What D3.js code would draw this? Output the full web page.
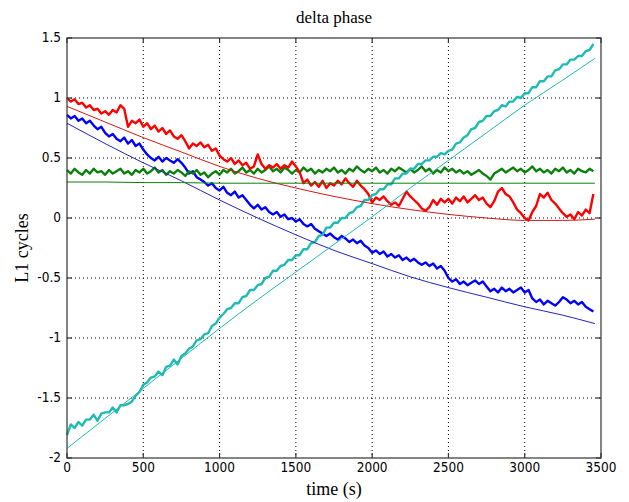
<!DOCTYPE html>
<html>
<head>
<meta charset="utf-8">
<script src="https://cdn.jsdelivr.net/npm/d3@7"></script>
<style>
  body { margin: 0; background: #fff; }
  svg { display: block; }
</style>
</head>
<body>
<div id="chart"></div>
<script>
// sample times of the measured series (every 25 s)
var sampleTime = d3.range(0, 3451, 25);

var redMeasured = [
  1.00, 0.97, 0.99, 0.95, 0.96, 0.92, 0.94, 0.90, 0.91, 0.87,
  0.89, 0.86, 0.90, 0.88, 0.94, 0.91, 0.76, 0.81, 0.79, 0.82,
  0.76, 0.79, 0.74, 0.77, 0.72, 0.75, 0.70, 0.73, 0.68, 0.66,
  0.69, 0.64, 0.58, 0.62, 0.60, 0.63, 0.59, 0.61, 0.56, 0.58,
  0.52, 0.49, 0.47, 0.50, 0.45, 0.48, 0.44, 0.46, 0.41, 0.43,
  0.53, 0.45, 0.41, 0.44, 0.42, 0.45, 0.41, 0.44, 0.42, 0.47,
  0.43, 0.38, 0.29, 0.32, 0.27, 0.30, 0.26, 0.31, 0.25, 0.29,
  0.27, 0.31, 0.28, 0.33, 0.29, 0.26, 0.31, 0.27, 0.24, 0.20,
  0.13, 0.17, 0.15, 0.18, 0.14, 0.11, 0.13, 0.10, 0.16, 0.22,
  0.18, 0.15, 0.12, 0.08, 0.06, 0.09, 0.15, 0.11, 0.16, 0.13,
  0.16, 0.12, 0.17, 0.14, 0.18, 0.13, 0.16, 0.19, 0.15, 0.17,
  0.12, 0.09, 0.14, 0.22, 0.25, 0.20, 0.18, 0.13, 0.07, 0.04,
  0.00, -0.02, 0.05, 0.10, 0.20, 0.17, 0.21, 0.15, 0.12, 0.08,
  0.04, 0.01, 0.03, -0.01, 0.05, 0.02, 0.07, 0.04, 0.20
];

var blueMeasured = [
  0.86, 0.83, 0.85, 0.81, 0.83, 0.79, 0.81, 0.77, 0.74, 0.76,
  0.71, 0.68, 0.70, 0.66, 0.64, 0.67, 0.62, 0.65, 0.60, 0.62,
  0.57, 0.53, 0.50, 0.48, 0.51, 0.47, 0.50, 0.48, 0.46, 0.49,
  0.46, 0.42, 0.37, 0.39, 0.34, 0.32, 0.30, 0.27, 0.29, 0.25,
  0.23, 0.26, 0.21, 0.19, 0.22, 0.17, 0.19, 0.15, 0.11, 0.08,
  0.11, 0.07, 0.09, 0.05, 0.03, 0.05, 0.01, 0.03, -0.01, 0.00,
  -0.03, -0.01, -0.05, -0.07, -0.05, -0.09, -0.11, -0.13, -0.15, -0.13,
  -0.16, -0.18, -0.15, -0.17, -0.20, -0.18, -0.21, -0.19, -0.23, -0.25,
  -0.29, -0.27, -0.30, -0.28, -0.32, -0.30, -0.33, -0.31, -0.35, -0.33,
  -0.36, -0.34, -0.37, -0.39, -0.37, -0.40, -0.38, -0.42, -0.40, -0.44,
  -0.50, -0.53, -0.51, -0.55, -0.53, -0.56, -0.54, -0.52, -0.55, -0.53,
  -0.57, -0.61, -0.59, -0.62, -0.58, -0.61, -0.59, -0.62, -0.60, -0.58,
  -0.62, -0.60, -0.67, -0.70, -0.68, -0.72, -0.69, -0.71, -0.73, -0.70,
  -0.66, -0.68, -0.71, -0.69, -0.72, -0.70, -0.74, -0.76, -0.78
];

var greenMeasured = [
  0.40, 0.37, 0.41, 0.38, 0.36, 0.40, 0.37, 0.41, 0.38, 0.39,
  0.36, 0.40, 0.37, 0.39, 0.41, 0.37, 0.39, 0.36, 0.40, 0.38,
  0.41, 0.37, 0.39, 0.42, 0.38, 0.40, 0.36, 0.39, 0.37, 0.40,
  0.38, 0.35, 0.39, 0.37, 0.40, 0.36, 0.38, 0.34, 0.37, 0.39,
  0.36, 0.40, 0.38, 0.41, 0.37, 0.39, 0.42, 0.38, 0.40, 0.37,
  0.41, 0.38, 0.40, 0.43, 0.39, 0.41, 0.38, 0.42, 0.40, 0.37,
  0.40, 0.38, 0.42, 0.39, 0.41, 0.37, 0.40, 0.38, 0.41, 0.39,
  0.42, 0.38, 0.40, 0.37, 0.41, 0.39, 0.43, 0.40, 0.38, 0.41,
  0.39, 0.42, 0.38, 0.40, 0.37, 0.41, 0.39, 0.42, 0.40, 0.38,
  0.41, 0.38, 0.40, 0.43, 0.39, 0.41, 0.37, 0.40, 0.38, 0.42,
  0.39, 0.41, 0.38, 0.40, 0.37, 0.39, 0.36, 0.38, 0.40, 0.37,
  0.35, 0.32, 0.37, 0.39, 0.41, 0.38, 0.40, 0.42, 0.39, 0.41,
  0.38, 0.40, 0.43, 0.39, 0.41, 0.38, 0.40, 0.37, 0.41, 0.39,
  0.42, 0.38, 0.40, 0.37, 0.41, 0.39, 0.38, 0.41, 0.39
];

var cyanMeasured = [
  -1.81, -1.72, -1.75, -1.70, -1.73, -1.68, -1.68, -1.64, -1.69, -1.63,
  -1.62, -1.62, -1.58, -1.62, -1.56, -1.56, -1.55, -1.53, -1.48, -1.45,
  -1.39, -1.37, -1.33, -1.32, -1.28, -1.31, -1.24, -1.23, -1.18, -1.22,
  -1.15, -1.13, -1.09, -1.07, -1.02, -1.01, -0.97, -0.96, -0.90, -0.88,
  -0.83, -0.80, -0.76, -0.75, -0.71, -0.71, -0.66, -0.65, -0.60, -0.60,
  -0.56, -0.55, -0.50, -0.49, -0.44, -0.44, -0.40, -0.39, -0.35, -0.35,
  -0.31, -0.31, -0.26, -0.26, -0.21, -0.20, -0.15, -0.14, -0.08, -0.08,
  -0.04, -0.04, 0.00, 0.00, 0.04, 0.05, 0.09, 0.10, 0.15, 0.15,
  0.19, 0.20, 0.24, 0.24, 0.28, 0.28, 0.33, 0.33, 0.37, 0.37,
  0.41, 0.41, 0.45, 0.45, 0.48, 0.48, 0.51, 0.51, 0.54, 0.53,
  0.56, 0.57, 0.62, 0.63, 0.67, 0.69, 0.74, 0.75, 0.80, 0.81,
  0.85, 0.85, 0.89, 0.90, 0.94, 0.93, 0.97, 0.97, 1.01, 1.00,
  1.04, 1.04, 1.09, 1.09, 1.14, 1.14, 1.18, 1.18, 1.23, 1.24,
  1.28, 1.28, 1.32, 1.32, 1.35, 1.35, 1.39, 1.40, 1.45
];

// fitted curves (thin lines)
var fitTime = [0, 250, 500, 750, 1000, 1250, 1500, 1750, 2000, 2250, 2500, 2750, 3000, 3250, 3460];
var redFit   = [0.93, 0.80, 0.67, 0.55, 0.43, 0.33, 0.25, 0.18, 0.12, 0.07, 0.03, 0.00, -0.02, -0.02, -0.01];
var blueFit  = [0.79, 0.62, 0.46, 0.31, 0.15, 0.00, -0.14, -0.27, -0.38, -0.49, -0.58, -0.66, -0.74, -0.81, -0.88];
var greenFit = [0.30, 0.30, 0.295, 0.295, 0.29, 0.29, 0.29, 0.29, 0.29, 0.29, 0.29, 0.29, 0.29, 0.29, 0.29];
var cyanFit  = [-1.92, -1.67, -1.42, -1.17, -0.92, -0.68, -0.45, -0.22, 0.01, 0.25, 0.48, 0.71, 0.94, 1.15, 1.33];

var xTicks = [0, 500, 1000, 1500, 2000, 2500, 3000, 3500];
var yTicks = [-2, -1.5, -1, -0.5, 0, 0.5, 1, 1.5];

var width = 629, height = 502,
    plotLeft = 67, plotRight = 601, plotTop = 38, plotBottom = 458,
    tickLen = 5;

var svg = d3.select("#chart").append("svg")
    .attr("width", width)
    .attr("height", height);

var x = d3.scaleLinear().domain([0, 3500]).range([plotLeft, plotRight]);
var y = d3.scaleLinear().domain([-2, 1.5]).range([plotBottom, plotTop]);

// dotted grid
svg.append("g").selectAll("line")
    .data(xTicks.slice(1, -1))
    .enter().append("line")
    .attr("x1", d => x(d)).attr("x2", d => x(d))
    .attr("y1", plotTop).attr("y2", plotBottom)
    .attr("stroke", "#000").attr("stroke-width", 1)
    .attr("stroke-dasharray", "1,3");

svg.append("g").selectAll("line")
    .data(yTicks.slice(1, -1))
    .enter().append("line")
    .attr("x1", plotLeft).attr("x2", plotRight)
    .attr("y1", d => y(d)).attr("y2", d => y(d))
    .attr("stroke", "#000").attr("stroke-width", 1)
    .attr("stroke-dasharray", "1,3");

var line = d3.line()
    .x(d => x(d[0]))
    .y(d => y(d[1]));

function noisy(values, color) {
    svg.append("path")
        .attr("d", line(values.map((v, i) => [sampleTime[i], v])))
        .attr("fill", "none")
        .attr("stroke", color)
        .attr("stroke-width", 2.4)
        .attr("stroke-linejoin", "round");
}

function fit(values, color) {
    svg.append("path")
        .attr("d", d3.line().curve(d3.curveMonotoneX)
            .x(d => x(d[0])).y(d => y(d[1]))(values.map((v, i) => [fitTime[i], v])))
        .attr("fill", "none")
        .attr("stroke", color)
        .attr("stroke-width", 1);
}

noisy(blueMeasured, "#0000ff");
noisy(greenMeasured, "#0a800a");
noisy(redMeasured, "#ff0000");
noisy(cyanMeasured, "#1fbab2");

fit(redFit, "#d01818");
fit(blueFit, "#2424b8");
fit(greenFit, "#0a800a");
fit(cyanFit, "#1fbab2");

// box and inward ticks on all four sides
var axisColor = "#333";
svg.append("rect")
    .attr("x", plotLeft).attr("y", plotTop)
    .attr("width", plotRight - plotLeft).attr("height", plotBottom - plotTop)
    .attr("fill", "none").attr("stroke", axisColor).attr("stroke-width", 1.2);

var ticks = svg.append("g").attr("stroke", axisColor).attr("stroke-width", 1.2);
xTicks.forEach(function (d) {
    ticks.append("line").attr("x1", x(d)).attr("x2", x(d)).attr("y1", plotBottom).attr("y2", plotBottom - tickLen);
    ticks.append("line").attr("x1", x(d)).attr("x2", x(d)).attr("y1", plotTop).attr("y2", plotTop + tickLen);
});
yTicks.forEach(function (d) {
    ticks.append("line").attr("x1", plotLeft).attr("x2", plotLeft + tickLen).attr("y1", y(d)).attr("y2", y(d));
    ticks.append("line").attr("x1", plotRight).attr("x2", plotRight - tickLen).attr("y1", y(d)).attr("y2", y(d));
});

var tickFont = "'Liberation Sans Narrow', 'DejaVu Sans Condensed', sans-serif";

svg.append("g").selectAll("text")
    .data(xTicks)
    .enter().append("text")
    .attr("x", d => x(d))
    .attr("y", plotBottom + 14)
    .attr("text-anchor", "middle")
    .attr("font-family", tickFont)
    .attr("font-size", 13.5)
    .attr("fill", "#000")
    .text(d => d);

svg.append("g").selectAll("text")
    .data(yTicks)
    .enter().append("text")
    .attr("x", plotLeft - 6)
    .attr("y", d => y(d) + 4)
    .attr("text-anchor", "end")
    .attr("font-family", tickFont)
    .attr("font-size", 13.5)
    .attr("fill", "#000")
    .text(d => d);

var labelFont = "'Liberation Serif', 'DejaVu Serif', serif";

svg.append("text")
    .attr("x", (plotLeft + plotRight) / 2)
    .attr("y", 23)
    .attr("text-anchor", "middle")
    .attr("font-family", labelFont)
    .attr("font-size", 17)
    .text("delta phase");

svg.append("text")
    .attr("x", (plotLeft + plotRight) / 2)
    .attr("y", 495)
    .attr("text-anchor", "middle")
    .attr("font-family", labelFont)
    .attr("font-size", 18)
    .text("time (s)");

svg.append("text")
    .attr("transform", "translate(28," + ((plotTop + plotBottom) / 2) + ") rotate(-90)")
    .attr("text-anchor", "middle")
    .attr("font-family", labelFont)
    .attr("font-size", 18)
    .text("L1 cycles");
</script>
</body>
</html>
